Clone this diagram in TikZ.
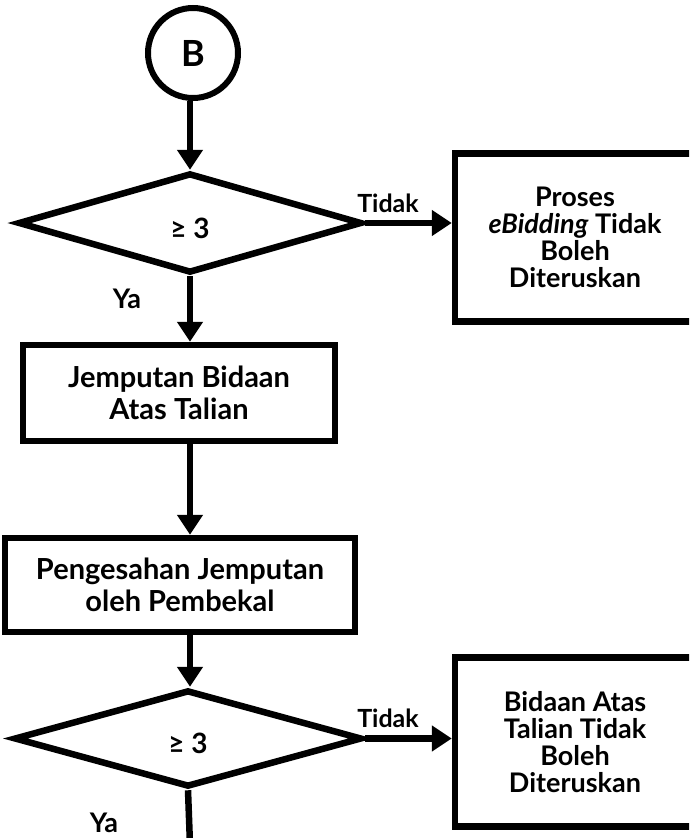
\documentclass[tikz,border=0pt]{standalone}
\usepackage{fontspec}
\setmainfont{Lato}
\usetikzlibrary{shapes.geometric,arrows.meta}
\begin{document}
\begin{tikzpicture}[x=1pt,y=-1pt,
  every node/.style={font=\bfseries},
  startnode/.style={circle,draw,line width=6pt,minimum size=90pt,inner sep=0pt,font=\bfseries\fontsize{36}{36}\selectfont},
  decide/.style={diamond,draw,line width=6.5pt,inner sep=0pt},
  condtext/.style={font=\bfseries\fontsize{28}{28}\selectfont,inner sep=0pt},
  procbox/.style={rectangle,draw,line width=6.5pt,align=center,inner sep=0pt,font=\bfseries\fontsize{29}{32}\selectfont},
  sidebox/.style={rectangle,draw,line width=6.5pt,align=center,inner sep=0pt,minimum width=240pt,minimum height=168pt,font=\bfseries\fontsize{27}{27}\selectfont},
  lbl/.style={font=\bfseries\fontsize{25}{25}\selectfont,inner sep=0pt},
  yalbl/.style={font=\bfseries\fontsize{27}{27}\selectfont,inner sep=0pt},
  flow/.style={line width=6.5pt,-{Triangle[length=20pt,width=25pt]}},
  plain/.style={line width=6.5pt}]
\clip (0,0) rectangle (689,838);
\fill[white] (0,0) rectangle (689,838);

\node[startnode] (B) at (193,53) {B};
\node[decide,minimum width=344pt,minimum height=100pt] (d1) at (190,223) {};
\node[condtext] (t1) at (190,228) {≥ 3};
\node[sidebox] (r1) at (575,237.5) {Proses\\\textit{eBidding} Tidak\\Boleh\\Diteruskan};
\node[procbox,minimum width=312pt,minimum height=96pt] (b2) at (179,393) {Jemputan Bidaan\\Atas Talian};
\node[procbox,minimum width=350pt,minimum height=94pt] (b3) at (180,585) {Pengesahan Jemputan\\oleh Pembekal};
\node[decide,minimum width=348pt,minimum height=97pt] (d2) at (188,738.5) {};
\node[condtext] (t2) at (188,743) {≥ 3};
\node[sidebox,minimum height=169pt] (r2) at (575,742) {Bidaan Atas\\Talian Tidak\\Boleh\\Diteruskan};
\coordinate (endpt) at (190,845);

\node[lbl] (tidak1) at (388,203) {Tidak};
\node[yalbl] (ya1) at (127,299) {Ya};
\node[lbl] (tidak2) at (388,718) {Tidak};
\node[yalbl] (ya2) at (104,823) {Ya};

\draw[flow] (B.south -| d1.north) -- (d1.north);
\draw[flow] (d1.east) -- (d1.east -| r1.west);
\draw[flow] (d1.south) -- (d1.south |- b2.north);
\draw[flow] (b2.south -| d1.south) -- (b3.north -| d1.south);
\draw[flow] (b3.south -| d1.south) -- (d2.north -| d1.south);
\draw[flow] (d2.east) -- (d2.east -| r2.west);
\draw[plain] (d2.south) -- (endpt);
\end{tikzpicture}
\end{document}
